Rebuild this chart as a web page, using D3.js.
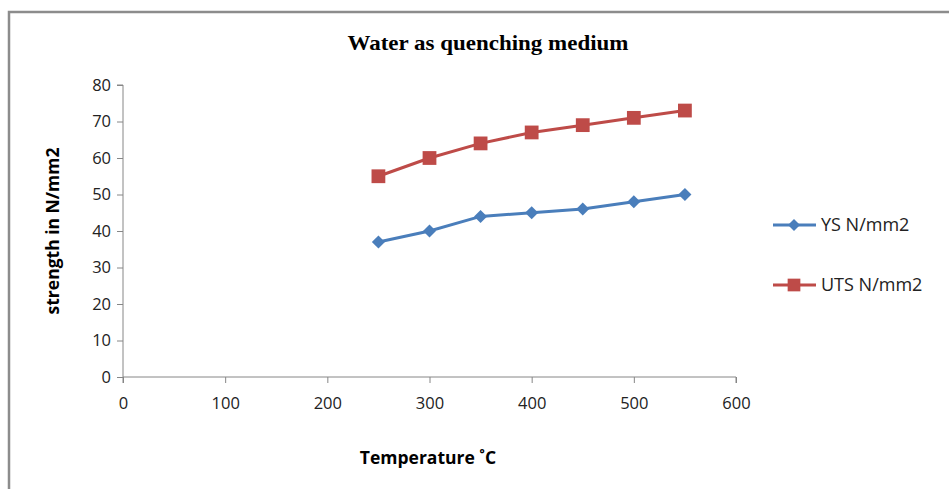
<!DOCTYPE html>
<html>
<head>
<meta charset="utf-8">
<script src="https://cdn.jsdelivr.net/npm/d3@7"></script>
<style>
  body { margin: 0; background: #fff; }
</style>
</head>
<body>
<svg></svg>
<script>
// temperatures (°C) and strengths (N/mm2)
const temperatures = [250, 300, 350, 400, 450, 500, 550]
const ysValues = [37, 40, 44, 45, 46, 48, 50]
const utsValues = [55, 60, 64, 67, 69, 71, 73]
const xTicks = [0, 100, 200, 300, 400, 500, 600]
const yTicks = [0, 10, 20, 30, 40, 50, 60, 70, 80]
const seriesNames = ['YS N/mm2', 'UTS N/mm2']

const width = 949
const height = 489
const plot = { left: 123, right: 736, top: 85, bottom: 377 }
const font = "'Open Sans', 'Noto Sans', sans-serif"

const svg = d3.select('svg').attr('width', width).attr('height', height)

// chart border (runs off right and bottom edge)
svg.append('rect')
  .attr('x', 9).attr('y', 12)
  .attr('width', 960).attr('height', 500)
  .style('fill', 'none')
  .style('stroke', '#8c8c8c')
  .style('stroke-width', 2.5)

const x = d3.scaleLinear().domain([0, 600]).range([plot.left, plot.right])
const y = d3.scaleLinear().domain([0, 80]).range([plot.bottom, plot.top])

// y axis
const yAxis = svg.append('g')
  .attr('transform', `translate(${plot.left},0)`)
  .call(d3.axisLeft(y).tickValues(yTicks).tickSize(6).tickPadding(6))
yAxis.select('.domain').attr('stroke', '#868686').attr('d', `M-6,${plot.top}H0V${plot.bottom}`)
yAxis.selectAll('.tick line').attr('stroke', '#868686')
yAxis.selectAll('.tick text')
  .attr('font-family', font).attr('font-size', 16.5).attr('fill', '#222')

// x axis
const xAxis = svg.append('g')
  .attr('transform', `translate(0,${plot.bottom})`)
  .call(d3.axisBottom(x).tickValues(xTicks).tickSize(6).tickPadding(14))
xAxis.select('.domain').attr('stroke', '#868686').attr('d', `M${plot.left},6V0H${plot.right}V6`)
xAxis.selectAll('.tick line').attr('stroke', '#868686')
xAxis.selectAll('.tick text')
  .attr('font-family', font).attr('font-size', 16.5).attr('fill', '#222')

// title
svg.append('text')
  .attr('x', 488).attr('y', 50)
  .attr('text-anchor', 'middle')
  .attr('font-family', "'Liberation Serif', serif")
  .attr('font-weight', 'bold')
  .attr('font-size', 21)
  .attr('textLength', 281)
  .attr('lengthAdjust', 'spacingAndGlyphs')
  .text('Water as quenching medium')

// axis titles
svg.append('text')
  .attr('transform', 'translate(59,231) rotate(-90)')
  .attr('text-anchor', 'middle')
  .attr('font-family', font)
  .attr('font-weight', 'bold')
  .attr('font-size', 17.5)
  .text('strength in N/mm2')

svg.append('text')
  .attr('x', 428).attr('y', 464)
  .attr('text-anchor', 'middle')
  .attr('font-family', font)
  .attr('font-weight', 'bold')
  .attr('font-size', 17.5)
  .text('Temperature ˚C')

const series = [
  { name: seriesNames[0], values: ysValues, color: '#4a7ebb', rotate: 45, size: 85 },
  { name: seriesNames[1], values: utsValues, color: '#be4b48', rotate: 0, size: 190 }
]

const line = d3.line()
  .x(d => x(d[0]))
  .y(d => y(d[1]))

series.forEach(s => {
  const pts = temperatures.map((t, i) => [t, s.values[i]])
  svg.append('path')
    .datum(pts)
    .attr('d', line)
    .style('fill', 'none')
    .style('stroke', s.color)
    .style('stroke-width', 3)
  svg.selectAll(null).data(pts).enter().append('path')
    .attr('d', d3.symbol().type(d3.symbolSquare).size(s.size))
    .attr('transform', d => `translate(${x(d[0])},${y(d[1])}) rotate(${s.rotate})`)
    .style('fill', s.color)
})

// legend
series.forEach((s, i) => {
  const ly = 225 + i * 60
  const g = svg.append('g')
  g.append('line')
    .attr('x1', 773).attr('x2', 816)
    .attr('y1', ly).attr('y2', ly)
    .style('stroke', s.color)
    .style('stroke-width', 3)
  g.append('path')
    .attr('d', d3.symbol().type(d3.symbolSquare).size(s.size * 0.85))
    .attr('transform', `translate(794,${ly}) rotate(${s.rotate})`)
    .style('fill', s.color)
  g.append('text')
    .attr('x', 821).attr('y', ly + 6)
    .attr('font-family', font)
    .attr('font-size', 18)
    .attr('fill', '#222')
    .text(s.name)
})
</script>
</body>
</html>
